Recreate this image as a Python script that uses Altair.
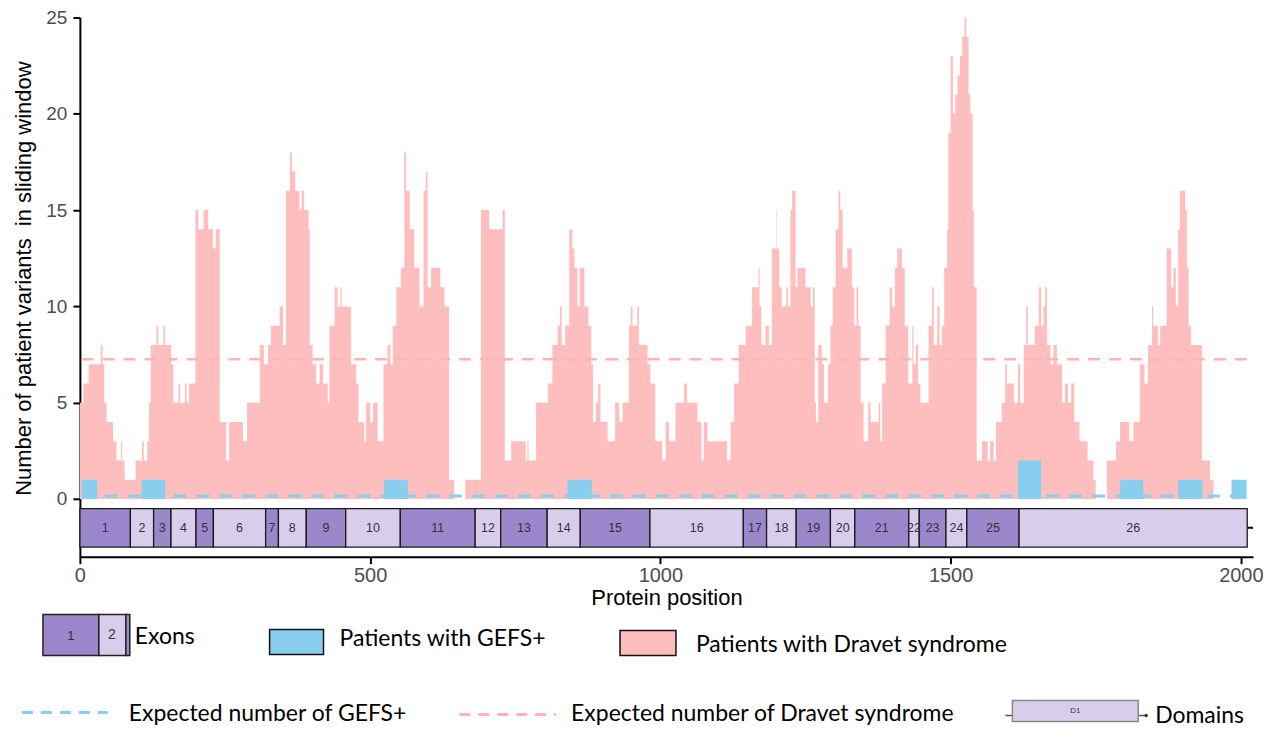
import altair as alt
import pandas as pd

# ---------------- data ----------------
dravet_pos = [0, 6, 15, 36, 39, 42, 46, 57, 63, 71, 73, 77, 96, 107, 110, 116, 119, 122, 132, 135,
              144, 147, 157, 161, 170, 173, 181, 184, 188, 199, 204, 213, 221, 229, 234, 241, 252, 257,
              281, 288, 310, 317, 324, 329, 344, 350, 355, 362, 365, 371, 378, 382, 386, 394, 396, 401,
              407, 413, 419, 427, 430, 439, 444, 449, 451, 467, 476, 480, 490, 493, 500, 505, 513, 523,
              530, 535, 539, 545, 553, 559, 562, 568, 576, 585, 592, 596, 599, 605, 621, 628, 636, 645,
              664, 691, 705, 728, 732, 743, 768, 771, 773, 786, 806, 814, 823, 827, 830, 836, 843, 848,
              852, 857, 861, 869, 876, 881, 884, 889, 893, 897, 909, 922, 929, 935, 946, 949, 952, 960,
              963, 978, 983, 991, 1003, 1009, 1015, 1026, 1041, 1046, 1064, 1071, 1075, 1081, 1115, 1121,
              1127, 1135, 1147, 1158, 1164, 1169, 1171, 1174, 1181, 1187, 1192, 1200, 1201, 1205, 1209,
              1217, 1220, 1224, 1227, 1233, 1236, 1250, 1259, 1263, 1266, 1268, 1272, 1278, 1282, 1289,
              1293, 1297, 1302, 1307, 1310, 1314, 1322, 1330, 1334, 1338, 1341, 1345, 1350, 1358, 1362,
              1376, 1379, 1382, 1388, 1395, 1399, 1404, 1408, 1416, 1421, 1427, 1434, 1436, 1440, 1444,
              1448, 1462, 1468, 1471, 1477, 1481, 1485, 1489, 1494, 1496, 1500, 1504, 1508, 1512, 1516,
              1520, 1524, 1527, 1531, 1534, 1538, 1540, 1545, 1554, 1564, 1568, 1574, 1578, 1588, 1594,
              1597, 1609, 1616, 1620, 1626, 1630, 1633, 1645, 1652, 1656, 1660, 1663, 1666, 1672, 1677,
              1683, 1692, 1697, 1702, 1708, 1713, 1722, 1736, 1746, 1750, 1769, 1785, 1792, 1808, 1815,
              1826, 1834, 1840, 1847, 1849, 1857, 1861, 1872, 1880, 1884, 1888, 1892, 1895, 1904, 1907,
              1910, 1914, 1933, 1947, 1953, 2011]
dravet_val = [5, 6, 7, 8, 7, 5, 4, 3, 2, 3, 2, 1, 2, 3, 2, 3, 5, 8, 9, 8,
              9, 8, 7, 5, 6, 5, 6, 5, 6, 15, 14, 15, 14, 13, 14, 4, 2, 4,
              3, 5, 8, 7, 8, 9, 10, 8, 16, 18, 17, 16, 15, 16, 15, 14, 8, 7,
              6, 7, 6, 5, 9, 11, 10, 11, 10, 7, 6, 4, 3, 5, 4, 5, 3, 7,
              8, 7, 9, 11, 12, 18, 16, 14, 12, 10, 16, 17, 11, 12, 11, 10, 1, 0,
              1, 15, 14, 15, 2, 3, 2, 3, 2, 5, 6, 8, 9, 10, 8, 9, 14, 13,
              12, 10, 12, 10, 9, 7, 4, 5, 6, 4, 3, 5, 4, 5, 9, 10, 9, 10,
              8, 7, 6, 3, 2, 4, 3, 5, 6, 5, 4, 2, 4, 3, 2, 4,
              6, 8, 9, 11, 11, 12, 10, 8, 9, 8, 13, 15, 13, 11, 10,
              11, 10, 15, 16, 11, 12, 11, 10, 11, 5, 4, 8, 7, 5, 7,
              9, 11, 14, 16, 15, 12, 13, 11, 9, 11, 9, 5, 3, 5, 4,
              5, 3, 6, 9, 11, 10, 12, 13, 12, 9, 6, 9, 7, 8, 6,
              5, 9, 11, 8, 10, 8, 9, 12, 14, 19, 23, 20, 21, 22, 23,
              24, 25, 24, 21, 20, 15, 11, 2, 3, 2, 3, 2, 4, 5, 7,
              6, 5, 7, 5, 8, 10, 8, 9, 11, 9, 10, 11, 8, 7, 8,
              7, 5, 6, 5, 6, 4, 3, 2, 1, 0, 2, 3, 4, 3, 4,
              7, 6, 8, 10, 9, 8, 9, 13, 11, 12, 10, 14, 16, 15, 12,
              9, 8, 2, 1, 0, 0]

gefs_pos = [0, 3, 30, 106, 147, 524, 565, 840, 882, 1616, 1656, 1792, 1832, 1892, 1934, 1984, 2010]
gefs_val = [0, 1, 0, 1, 0, 1, 0, 1, 0, 2, 0, 1, 0, 1, 0, 1, 0]

expected_dravet = 7.25
expected_gefs = 0.15

exon_bounds = [0, 87, 127, 157, 200, 230, 320, 342, 390, 458, 552, 681, 725, 805, 862, 982,
               1143, 1183, 1234, 1293, 1335, 1428, 1446, 1492, 1528, 1618, 2011]
exon_labels = [str(i) for i in range(1, 27)]

x_ticks = [0, 500, 1000, 1500, 2000]
y_ticks = [0, 5, 10, 15, 20, 25]

legend_labels = ["Exons", "Patients with GEFS+", "Patients with Dravet syndrome",
                 "Expected number of GEFS+", "Expected number of Dravet syndrome", "Domains"]

# ---------------- styling ----------------
PINK = "#FFBEBE"
PINK_DASH = "#FFB4B4"
BLUE = "#88CEEE"
DARK = "#9B87CB"
LIGHT = "#D8CEEC"
FONT = "Liberation Sans"
LFONT = "Lato"

xscale = alt.Scale(domain=[0, 2021], nice=False, zero=False)
yscale = alt.Scale(domain=[-3, 25], nice=False, zero=False)

xaxis = alt.Axis(values=x_ticks, format="d", grid=False, domainColor="black", domainWidth=2,
                 tickColor="black", tickWidth=2, tickSize=7, labelFontSize=20, labelColor="#4D4D4D",
                 labelFont=FONT, labelPadding=2, labelFlush=False, titleFont=FONT, titleFontSize=22,
                 titleFontWeight="normal", titleColor="black", titlePadding=2)
yaxis = alt.Axis(values=y_ticks, format="d", grid=False, domainColor="black", domainWidth=2,
                 tickColor="black", tickWidth=2, tickSize=7, labelFontSize=19, labelColor="#4D4D4D",
                 labelFont=FONT, labelPadding=6, titleFont=FONT, titleFontSize=22,
                 titleFontWeight="normal", titleColor="black", titlePadding=10, titleY=261)

dravet_df = pd.DataFrame({"pos": dravet_pos, "val": dravet_val, "base": 0})
gefs_df = pd.DataFrame({"pos": gefs_pos, "val": gefs_val, "base": 0})

exon_df = pd.DataFrame({
    "start": exon_bounds[:-1],
    "end": exon_bounds[1:],
    "label": exon_labels,
})
exon_df["mid"] = (exon_df["start"] + exon_df["end"]) / 2
exon_df["kind"] = ["odd" if i % 2 == 0 else "even" for i in range(len(exon_df))]
exon_df["lo"] = -2.5
exon_df["hi"] = -0.5
exon_df["yc"] = -1.5

exp_df = pd.DataFrame({
    "x0": [3, 3], "x1": [2018, 2018],
    "y": [expected_dravet, expected_gefs],
    "which": ["dravet", "gefs"],
})
track_df = pd.DataFrame({"x0": [0], "x1": [2021], "y": [-1.5]})

pink_area = alt.Chart(dravet_df).mark_area(interpolate="step-after", color=PINK).encode(
    x=alt.X("pos:Q", scale=xscale, axis=xaxis, title="Protein position"),
    y=alt.Y("val:Q", scale=yscale, axis=yaxis, stack=None,
            title="Number of patient variants \u00a0in sliding window"),
    y2="base:Q",
)
blue_area = alt.Chart(gefs_df).mark_area(interpolate="step-after", color=BLUE).encode(
    x="pos:Q", y=alt.Y("val:Q", stack=None), y2="base:Q",
)
pink_rule = alt.Chart(exp_df[exp_df.which == "dravet"]).mark_rule(
    color=PINK_DASH, strokeWidth=2.5, strokeDash=[12, 9]).encode(x="x0:Q", x2="x1:Q", y="y:Q")
blue_rule = alt.Chart(exp_df[exp_df.which == "gefs"]).mark_rule(
    color=BLUE, strokeWidth=3, strokeDash=[13, 10]).encode(x="x0:Q", x2="x1:Q", y="y:Q")
track_rule = alt.Chart(track_df).mark_rule(color="black", strokeWidth=2).encode(
    x="x0:Q", x2="x1:Q", y="y:Q")
exon_rect = alt.Chart(exon_df).mark_rect(stroke="#1a1a1a", strokeWidth=1.3).encode(
    x="start:Q", x2="end:Q", y="lo:Q", y2="hi:Q",
    color=alt.Color("kind:N", scale=alt.Scale(domain=["odd", "even"], range=[DARK, LIGHT]), legend=None),
)
exon_text = alt.Chart(exon_df).mark_text(font=FONT, fontSize=12.5, color="#333333").encode(
    x="mid:Q", y="yc:Q", text="label:N")

main = alt.layer(pink_area, pink_rule, blue_rule, blue_area, track_rule, exon_rect, exon_text).properties(
    width=1175, height=540)

# ---------------- hand-drawn legend panel (page-pixel layout) ----------------
LX0, LX1, LY0, LY1 = 78, 1268, 610, 724
lx = alt.Scale(domain=[LX0, LX1], nice=False, zero=False)
ly = alt.Scale(domain=[LY0, LY1], nice=False, zero=False, reverse=True)

leg_rects = pd.DataFrame({
    "x": [41, 97, 124, 268, 619, 1012],
    "x2": [97, 124, 128, 322, 675, 1138],
    "y": [616, 616, 616, 631, 632, 702],
    "y2": [657, 657, 657, 656, 657, 723],
    "fill": [DARK, LIGHT, DARK, BLUE, PINK, LIGHT],
    "stroke": ["#222222", "#222222", "#222222", "#111111", "#111111", "#888888"],
})
leg_text = pd.DataFrame({
    "x": [133, 338, 695, 127, 570, 1155],
    "y": [638, 640, 646, 716, 716, 718],
    "text": legend_labels,
})
leg_small = pd.DataFrame({"x": [69, 110, 1075], "y": [637, 636, 713], "text": ["1", "2", "D1"],
                          "size": [13, 14, 8]})
leg_lines = pd.DataFrame({"x": [20, 458], "x2": [106, 555], "y": [714, 716], "c": [BLUE, PINK_DASH]})
leg_dom = pd.DataFrame({"x": [1005], "x2": [1146], "y": [717]})
leg_dot = pd.DataFrame({"x": [1146], "y": [717]})

noax = None
r1 = alt.Chart(leg_dom).mark_rule(color="#555555", strokeWidth=1.5).encode(
    x=alt.X("x:Q", scale=lx, axis=noax), x2="x2:Q", y=alt.Y("y:Q", scale=ly, axis=noax))
r1b = alt.Chart(leg_dot).mark_point(filled=True, color="#333333", size=12, opacity=1).encode(
    x=alt.X("x:Q", scale=lx, axis=noax), y=alt.Y("y:Q", scale=ly, axis=noax))
r2 = alt.Chart(leg_rects).mark_rect(strokeWidth=1.5).encode(
    x=alt.X("x:Q", scale=lx, axis=noax), x2="x2:Q",
    y=alt.Y("y:Q", scale=ly, axis=noax), y2="y2:Q",
    fill=alt.Fill("fill:N", scale=None), stroke=alt.Stroke("stroke:N", scale=None))
r3 = alt.Chart(leg_lines).mark_rule(strokeWidth=3, strokeDash=[11, 8]).encode(
    x=alt.X("x:Q", scale=lx, axis=noax), x2="x2:Q", y=alt.Y("y:Q", scale=ly, axis=noax),
    color=alt.Color("c:N", scale=None))
r4 = alt.Chart(leg_text).mark_text(font=LFONT, fontSize=23, align="left", baseline="middle",
                                   color="black").encode(
    x=alt.X("x:Q", scale=lx, axis=noax), y=alt.Y("y:Q", scale=ly, axis=noax), text="text:N")
r5 = alt.Chart(leg_small).mark_text(font=FONT, align="center", baseline="middle", color="#333333").encode(
    x=alt.X("x:Q", scale=lx, axis=noax), y=alt.Y("y:Q", scale=ly, axis=noax), text="text:N",
    size=alt.Size("size:Q", scale=None))

legend = alt.layer(r1, r1b, r2, r3, r4, r5).properties(width=LX1 - LX0, height=LY1 - LY0)

chart = alt.vconcat(main, legend, spacing=0).properties(
    padding={"left": 4, "top": 0, "right": 0, "bottom": 0}
).configure_view(stroke=None).configure_concat(spacing=0)

chart.save("out.html", embed_options={"renderer": "svg", "actions": False})
